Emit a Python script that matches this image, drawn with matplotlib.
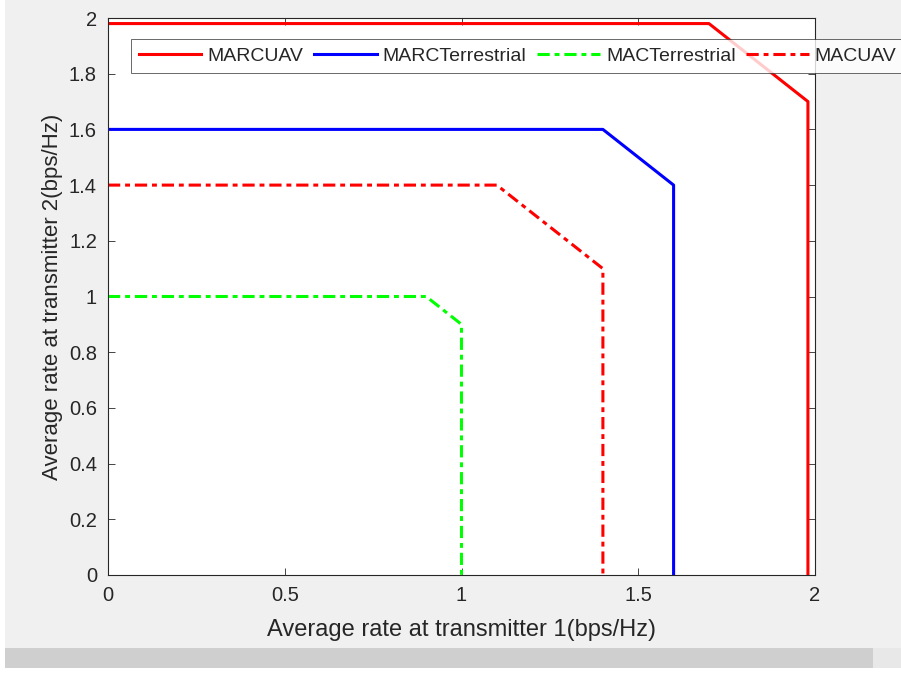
import matplotlib.pyplot as plt
from matplotlib.patches import Rectangle

plt.rcParams['font.family'] = ['Liberation Sans', 'DejaVu Sans']

# corner points of each rate region (x = transmitter 1, y = transmitter 2)
marc_uav_x = [0, 1.7, 1.98, 1.98]
marc_uav_y = [1.98, 1.98, 1.7, 0]
marc_ter_x = [0, 1.4, 1.6, 1.6]
marc_ter_y = [1.6, 1.6, 1.4, 0]
mac_ter_x = [0, 0.9, 1.0, 1.0]
mac_ter_y = [1.0, 1.0, 0.9, 0]
mac_uav_x = [0, 1.1, 1.4, 1.4]
mac_uav_y = [1.4, 1.4, 1.1, 0]

xticks = [0, 0.5, 1, 1.5, 2]
yticks = [0, 0.2, 0.4, 0.6, 0.8, 1, 1.2, 1.4, 1.6, 1.8, 2]

W, H = 901, 675
fig = plt.figure(figsize=(W / 100, H / 100), dpi=100, facecolor='#f0f0f0')
ax = fig.add_axes([108 / W, 1 - 575 / H, (815 - 108) / W, (575 - 18) / H])

dashdot = (0, (4, 1.6, 1.6, 1.6))
ax.plot(marc_uav_x, marc_uav_y, color='#ff0000', lw=2.2, label='MARCUAV')
ax.plot(marc_ter_x, marc_ter_y, color='#0000ff', lw=2.2, label='MARCTerrestrial')
ax.plot(mac_ter_x, mac_ter_y, color='#00ff00', lw=2.2, ls=dashdot, label='MACTerrestrial')
ax.plot(mac_uav_x, mac_uav_y, color='#ff0000', lw=2.2, ls=dashdot, label='MACUAV')

ax.set_xlim(0, 2)
ax.set_ylim(0, 2)
ax.set_xticks(xticks)
ax.set_xticklabels(['0', '0.5', '1', '1.5', '2'])
ax.set_yticks(yticks)
ax.set_yticklabels(['0', '0.2', '0.4', '0.6', '0.8', '1', '1.2', '1.4', '1.6', '1.8', '2'])
ax.tick_params(direction='in', top=True, right=True, length=5, width=0.6,
               colors='#262626', labelsize=14.5, pad=8)
for s in ax.spines.values():
    s.set_color('#262626')
    s.set_linewidth(0.8)

ax.set_xlabel('Average rate at transmitter 1(bps/Hz)', fontsize=17, color='#262626', labelpad=10)
ax.set_ylabel('Average rate at transmitter 2(bps/Hz)', fontsize=16, color='#262626', labelpad=4)

# legend runs past the right edge of the window, as in the original screenshot
leg = ax.legend(ncol=4, loc='upper left', bbox_to_anchor=(131 / W, 1 - 39 / H),
                bbox_transform=fig.transFigure, fontsize=14, frameon=True, fancybox=False,
                edgecolor='#262626', handlelength=3.2, handletextpad=0.32, columnspacing=0.56,
                borderpad=0.42, borderaxespad=0)
leg.get_frame().set_linewidth(0.6)
for t in leg.get_texts():
    t.set_color('#262626')

# window chrome: white left strip and the gray scroll bar at the bottom
fig.patches.append(Rectangle((0, 0), 5 / W, 1, transform=fig.transFigure,
                             facecolor='white', edgecolor='none'))
fig.patches.append(Rectangle((5 / W, 1 - 668 / H), 868 / W, 20 / H, transform=fig.transFigure,
                             facecolor='#cfcfcf', edgecolor='none'))
fig.patches.append(Rectangle((873 / W, 1 - 668 / H), 28 / W, 20 / H, transform=fig.transFigure,
                             facecolor='#e8e8e8', edgecolor='none'))
fig.patches.append(Rectangle((0, 0), 1, 1 - 668 / H, transform=fig.transFigure,
                             facecolor='white', edgecolor='none'))

fig.savefig('out.png', dpi=100, facecolor=fig.get_facecolor())
